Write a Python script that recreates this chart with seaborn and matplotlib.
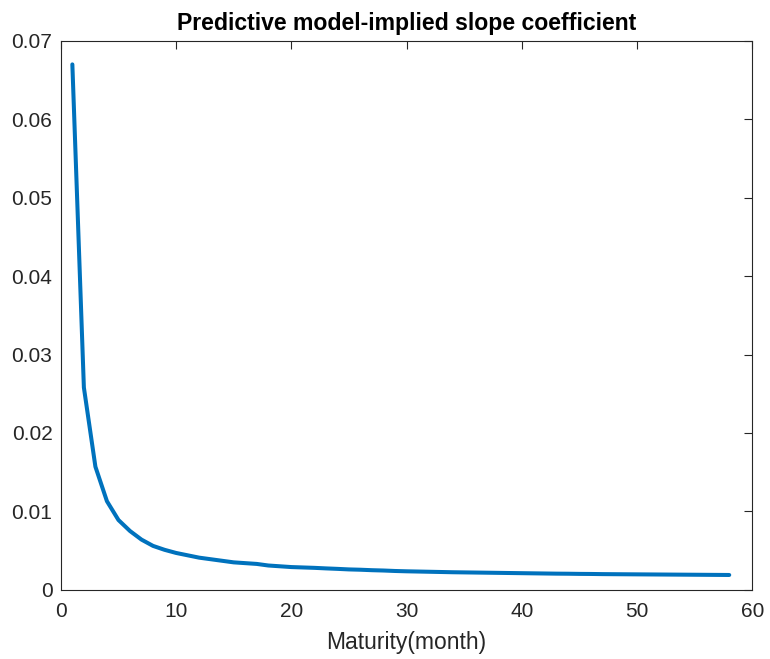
import numpy as np
import pandas as pd
import seaborn as sns
from matplotlib import pyplot as plt

maturity = list(range(1, 59))
slope = [
    0.0670, 0.0258, 0.0157, 0.0113, 0.0089, 0.0075, 0.0064, 0.0056, 0.0051, 0.0047,
    0.0044, 0.0041, 0.0039, 0.0037, 0.0035, 0.0034, 0.0033, 0.0031, 0.0030, 0.0029,
    0.00285, 0.0028, 0.00273, 0.00267, 0.0026, 0.00256, 0.0025, 0.00246, 0.0024, 0.00236,
    0.00233, 0.0023, 0.00227, 0.00224, 0.00222, 0.0022, 0.00218, 0.00216, 0.00214, 0.00212,
    0.0021, 0.00208, 0.00206, 0.00205, 0.00203, 0.00202, 0.0020, 0.00199, 0.00198, 0.00197,
    0.00196, 0.00195, 0.00194, 0.00193, 0.00192, 0.00191, 0.0019, 0.00189,
]
x_ticks = [0, 10, 20, 30, 40, 50, 60]
y_ticks = [0, 0.01, 0.02, 0.03, 0.04, 0.05, 0.06, 0.07]

df = pd.DataFrame({"maturity": maturity, "slope": slope})

sns.set_style("white")
plt.rcParams["font.family"] = ["Liberation Sans", "DejaVu Sans"]

fig = plt.figure(figsize=(7.7, 6.59), dpi=100)
ax = fig.add_axes([0.079, 0.105, 0.898, 0.833])
sns.lineplot(data=df, x="maturity", y="slope", ax=ax, color="#0072BD", linewidth=2.9)

ax.set_xlim(0, 60)
ax.set_ylim(0, 0.07)
ax.set_xticks(x_ticks)
ax.set_yticks(y_ticks)
ax.set_yticklabels([f"{v:g}" for v in y_ticks])
ax.tick_params(direction="in", top=True, right=True, length=6, width=0.8,
               colors="#262626", labelsize=15)
ax.tick_params(axis="y", pad=6)
ax.tick_params(axis="x", pad=9)
for s in ax.spines.values():
    s.set_color("#262626")
    s.set_linewidth(0.8)

ax.set_xlabel("Maturity(month)", fontsize=16.5, color="#262626", labelpad=7)
ax.set_ylabel("")
ax.set_title("Predictive model-implied slope coefficient", fontsize=16.6,
             fontweight="bold", color="black", pad=8)

plt.savefig("out.png", dpi=100)
plt.close()
